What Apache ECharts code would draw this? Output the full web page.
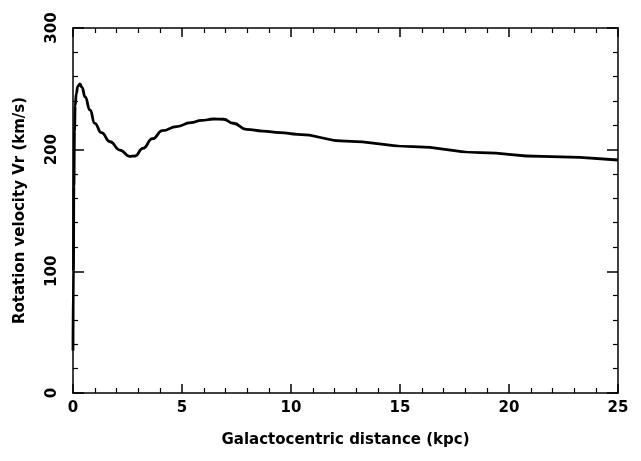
<!DOCTYPE html>
<html>
<head>
<meta charset="utf-8">
<script src="https://cdn.jsdelivr.net/npm/echarts@6/dist/echarts.min.js"></script>
<style>
  html, body { margin: 0; padding: 0; background: #fff; }
  #chart { width: 641px; height: 461px; }
</style>
</head>
<body>
<div id="chart"></div>
<script>
// galactocentric radius (kpc) and rotation velocity (km/s)
const radius = [0, 0.02, 0.04, 0.07, 0.1, 0.15, 0.22, 0.32, 0.42, 0.55, 0.78, 1.0, 1.3, 1.7, 2.15, 2.6, 2.85, 3.2, 3.65, 4.1, 4.75, 5.4, 5.9, 6.45, 6.9, 7.35, 7.95, 8.7, 9.5, 10.3, 12.5, 15.6, 18.7, 21.5, 25]
const velocity = [35, 100, 170, 215, 236, 246, 252, 254, 251, 243.5, 232.6, 221.6, 214, 206.5, 199.7, 194.5, 194.8, 201, 209, 215.6, 219, 222.2, 224, 225.2, 225, 221.7, 216.7, 215.3, 214, 212.6, 207, 202.5, 197.5, 194.5, 191.5]

const xTicks = [0, 5, 10, 15, 20, 25]
const yTicks = [0, 100, 200, 300]

const font = 'DejaVu Sans'
const ink = '#000'

const chart = echarts.init(document.getElementById('chart'))

const tickCommon = {
  axisLine: { show: true, onZero: false, lineStyle: { color: ink, width: 1.5 } },
  axisTick: { show: true, inside: true, length: 9, lineStyle: { color: ink, width: 1.5 } },
  minorTick: { show: true, splitNumber: 5, length: 5, lineStyle: { color: ink, width: 1.2 } },
  splitLine: { show: false },
  minorSplitLine: { show: false }
}

const labelStyle = { color: ink, fontFamily: font, fontSize: 15, fontWeight: 'bold' }

chart.setOption({
  animation: false,
  grid: { left: 73, right: 23, top: 28, bottom: 68 },
  xAxis: [
    {
      type: 'value',
      min: xTicks[0],
      max: xTicks[xTicks.length - 1],
      interval: 5,
      position: 'bottom',
      name: 'Galactocentric distance (kpc)',
      nameLocation: 'middle',
      nameGap: 40,
      nameTextStyle: { ...labelStyle },
      axisLabel: { ...labelStyle, margin: 8 },
      ...tickCommon
    },
    {
      type: 'value',
      min: xTicks[0],
      max: xTicks[xTicks.length - 1],
      interval: 5,
      position: 'top',
      axisLabel: { show: false },
      ...tickCommon
    }
  ],
  yAxis: [
    {
      type: 'value',
      min: yTicks[0],
      max: yTicks[yTicks.length - 1],
      interval: 100,
      position: 'left',
      name: 'Rotation velocity Vr (km/s)',
      nameLocation: 'middle',
      nameGap: 45,
      nameRotate: 90,
      nameTextStyle: { ...labelStyle },
      axisLabel: { ...labelStyle, rotate: 90, margin: 13 },
      ...tickCommon,
      axisTick: { show: true, inside: true, length: 11, lineStyle: { color: ink, width: 1.5 } }
    },
    {
      type: 'value',
      min: yTicks[0],
      max: yTicks[yTicks.length - 1],
      interval: 100,
      position: 'right',
      axisLabel: { show: false },
      ...tickCommon,
      axisTick: { show: true, inside: true, length: 11, lineStyle: { color: ink, width: 1.5 } }
    }
  ],
  series: [
    {
      type: 'line',
      data: radius.map((r, i) => [r, velocity[i]]),
      smooth: 0.5,
      smoothMonotone: 'x',
      showSymbol: false,
      lineStyle: { color: ink, width: 2.8 }
    }
  ]
})
</script>
</body>
</html>
